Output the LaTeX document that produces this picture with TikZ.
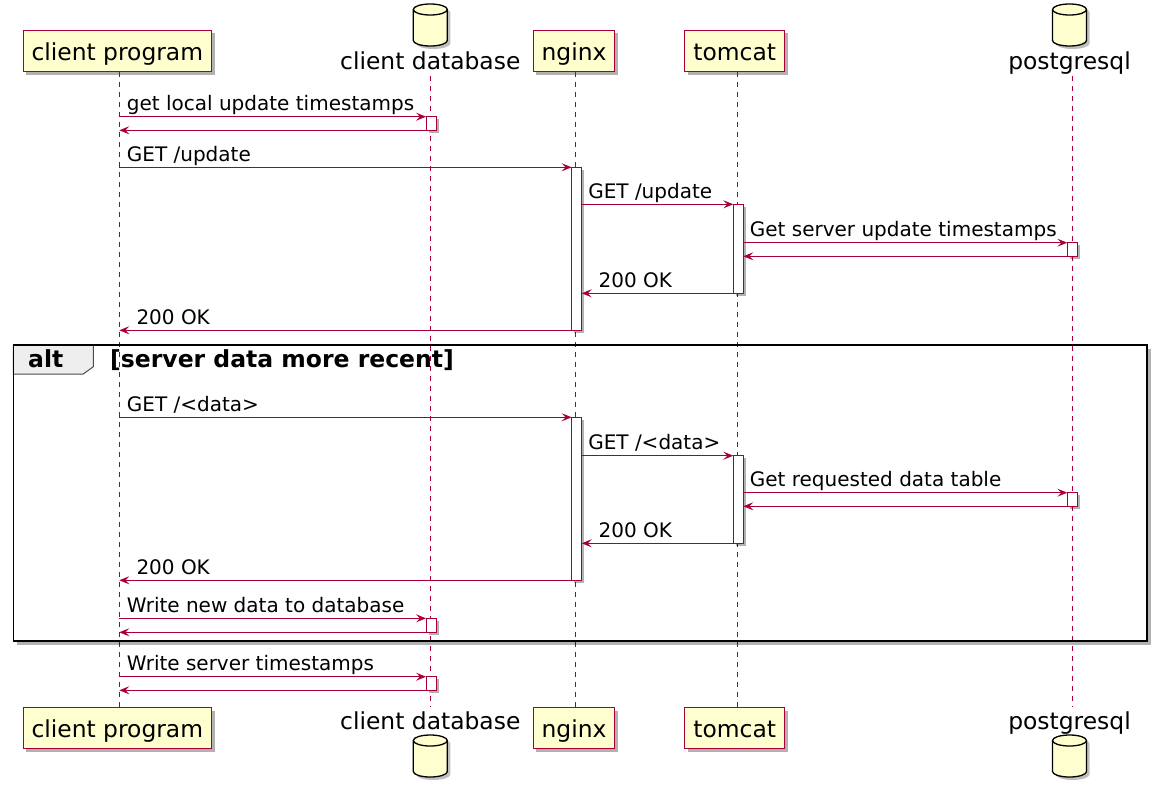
\documentclass[tikz,border=0pt]{standalone}
\usepackage{fontspec}
\setmainfont{DejaVu Sans}
\usetikzlibrary{arrows.meta,shadows}
\definecolor{pu}{HTML}{A80036}
\definecolor{pfill}{HTML}{FEFECE}
\definecolor{tabfill}{HTML}{EEEEEE}
\newcommand{\dbcyl}[2]{%
  \begin{scope}[shift={(#1,#2)}]
    \fill[black,opacity=0.25] (-14,8.5) -- (-14,39.5) arc[start angle=180,end angle=360,x radius=17pt,y radius=5.5pt] -- (20,8.5) arc[start angle=0,end angle=180,x radius=17pt,y radius=5.5pt] -- cycle;
    \filldraw[fill=pfill,draw=black,line width=1.3pt] (-17,5.5) -- (-17,36.5) arc[start angle=180,end angle=360,x radius=17pt,y radius=5.5pt] -- (17,5.5) arc[start angle=0,end angle=180,x radius=17pt,y radius=5.5pt] -- cycle;
    \draw[black,line width=1.3pt] (-17,5.5) arc[start angle=180,end angle=360,x radius=17pt,y radius=5.5pt];
  \end{scope}}
\tikzset{
  part/.style={draw=pu, fill=pfill, line width=1pt, inner xsep=8.5pt, inner ysep=6.5pt,
    text height=23pt, text depth=5pt, font=\fontsize{23.4}{28}\selectfont,
    drop shadow={shadow xshift=3pt, shadow yshift=-3pt, opacity=0.3, fill=black}},
  dblbl/.style={anchor=base, inner sep=0pt, font=\fontsize{23.4}{28}\selectfont},
  act/.style={draw=pu, fill=white, line width=1pt, minimum width=10pt, inner sep=0pt, outer sep=0pt,
    drop shadow={shadow xshift=2.5pt, shadow yshift=-2.5pt, opacity=0.3, fill=black}},
  msg/.style={draw=pu, line width=1pt, -{Stealth[length=10pt,width=8pt,inset=4pt]}},
  lbl/.style={anchor=base west, inner sep=0pt, font=\fontsize{20}{24}\selectfont},
  life/.style={color=pu, draw=pu, line width=1pt, dash pattern=on 5pt off 5pt},
  grp/.style={anchor=base west, inner sep=0pt, font=\fontsize{23.5}{28}\selectfont\bfseries}
}
\begin{document}
\begin{tikzpicture}[x=1pt,y=-1pt]
\useasboundingbox (0,0) rectangle (1164,792);

% lifeline x positions
\coordinate (cpx) at (119.3,0);
\coordinate (cdbx) at (430.3,0);
\coordinate (ngx) at (575.3,0);
\coordinate (tcx) at (737.3,0);
\coordinate (pgx) at (1072.3,0);

% participants top
\node[part] (cpT) at (117.3,51) {client program};
\node[part] (ngT) at (574,51) {nginx};
\node[part] (tcT) at (734.7,51) {tomcat};
\dbcyl{430.3}{4}
\node[dblbl] (cdbT) at (430.3,70) {client database};
\dbcyl{1069.5}{4}
\node[dblbl] (pgT) at (1069.5,70) {postgresql};

% participants bottom
\node[part] (cpB) at (117.3,728.3) {client program};
\node[part] (ngB) at (574,728.3) {nginx};
\node[part] (tcB) at (734.7,728.3) {tomcat};
\node[dblbl] (cdbB) at (430.3,729) {client database};
\dbcyl{430.3}{735}
\node[dblbl] (pgB) at (1069.5,729) {postgresql};
\dbcyl{1069.5}{735}

% lifelines
\coordinate (cpTop) at (119.3,72);
\coordinate (cpBot) at (119.3,707);
\coordinate (cdbTop) at (430.3,76);
\coordinate (cdbBot) at (430.3,707);
\coordinate (ngTop) at (575.3,72);
\coordinate (ngBot) at (575.3,707);
\coordinate (tcTop) at (737.3,72);
\coordinate (tcBot) at (737.3,707);
\coordinate (pgTop) at (1072.3,76);
\coordinate (pgBot) at (1072.3,707);
\draw[life] (cpTop) -- (cpBot);
\draw[life] (cdbTop) -- (cdbBot);
\draw[life] (ngTop) -- (ngBot);
\draw[life] (tcTop) -- (tcBot);
\draw[life] (pgTop) -- (pgBot);

% alt frame
\coordinate (fTL) at (13.3,345);
\coordinate (fBR) at (1146.7,640.7);
\draw[black,opacity=0.3,line width=3pt] (17,643.2) -- (1149.2,643.2) -- (1149.2,349);
\filldraw[fill=tabfill,draw=black!70,line width=1pt] (13.3,345) -- (93.3,345) -- (93.3,366.7) -- (83.3,374) -- (13.3,374) -- cycle;
\draw[black,line width=1.6pt] (fTL) rectangle (fBR);
\node[grp] (altk) at (28,367) {alt};
\node[grp] (altc) at (110,367) {[server data more recent]};

% activations
\node[act, minimum height=13.6pt] (db1) at (431,123.5) {};
\node[act, minimum height=14pt] (db2) at (431,625.3) {};
\node[act, minimum height=13.6pt] (db3) at (431,683.5) {};
\node[act, minimum height=163pt] (ng1) at (576.7,248.8) {};
\node[act, minimum height=163pt] (ng2) at (576.7,498.8) {};
\node[act, minimum height=89pt] (tc1) at (738.3,248.8) {};
\node[act, minimum height=87.6pt] (tc2) at (738.3,499.5) {};
\node[act, minimum height=13.6pt] (pg1) at (1072.3,249.5) {};
\node[act, minimum height=13.6pt] (pg2) at (1072.3,499.5) {};

% client lifeline points
\coordinate (c1) at (119.3,116.7);
\coordinate (c2) at (119.3,130.3);
\coordinate (c3) at (119.3,167.3);
\coordinate (c6) at (119.3,330.3);
\coordinate (c7) at (119.3,417.3);
\coordinate (c11) at (119.3,580.3);
\coordinate (c12) at (119.3,618.3);
\coordinate (c13) at (119.3,632.3);
\coordinate (c14) at (119.3,676.7);
\coordinate (c15) at (119.3,690.3);

% messages
\draw[msg] (c1) -- (db1.north west);
\draw[msg] (db1.south west) -- (c2);
\draw[msg] (c3) -- (ng1.north west);
\draw[msg] (ng1.east |- tc1.north) -- (tc1.north west);
\draw[msg] (tc1.east |- pg1.north) -- (pg1.north west);
\draw[msg] (pg1.south west) -- (tc1.east |- pg1.south);
\draw[msg] (tc1.south west) -- (ng1.east |- tc1.south);
\draw[msg] (ng1.south west) -- (c6);
\draw[msg] (c7) -- (ng2.north west);
\draw[msg] (ng2.east |- tc2.north) -- (tc2.north west);
\draw[msg] (tc2.east |- pg2.north) -- (pg2.north west);
\draw[msg] (pg2.south west) -- (tc2.east |- pg2.south);
\draw[msg] (tc2.south west) -- (ng2.east |- tc2.south);
\draw[msg] (ng2.south west) -- (c11);
\draw[msg] (c12) -- (db2.north west);
\draw[msg] (db2.south west) -- (c13);
\draw[msg] (c14) -- (db3.north west);
\draw[msg] (db3.south west) -- (c15);

% labels
\node[lbl] (m1) at (126.7,110.4) {get local update timestamps};
\node[lbl] (m2) at (126.7,161) {GET /update};
\node[lbl] (m3) at (588.1,198) {GET /update};
\node[lbl] (m4) at (749.7,236.4) {Get server update timestamps};
\node[lbl] (m5) at (598.5,287) {200 OK};
\node[lbl] (m6) at (136.3,324) {200 OK};
\node[lbl] (m7) at (126.7,411) {GET /<data>};
\node[lbl] (m8) at (588.1,449.4) {GET /<data>};
\node[lbl] (m9) at (749.7,486.4) {Get requested data table};
\node[lbl] (m10) at (598.5,537) {200 OK};
\node[lbl] (m11) at (136.3,574) {200 OK};
\node[lbl] (m12) at (126.7,612) {Write new data to database};
\node[lbl] (m13) at (126.7,670.4) {Write server timestamps};
\end{tikzpicture}
\end{document}
